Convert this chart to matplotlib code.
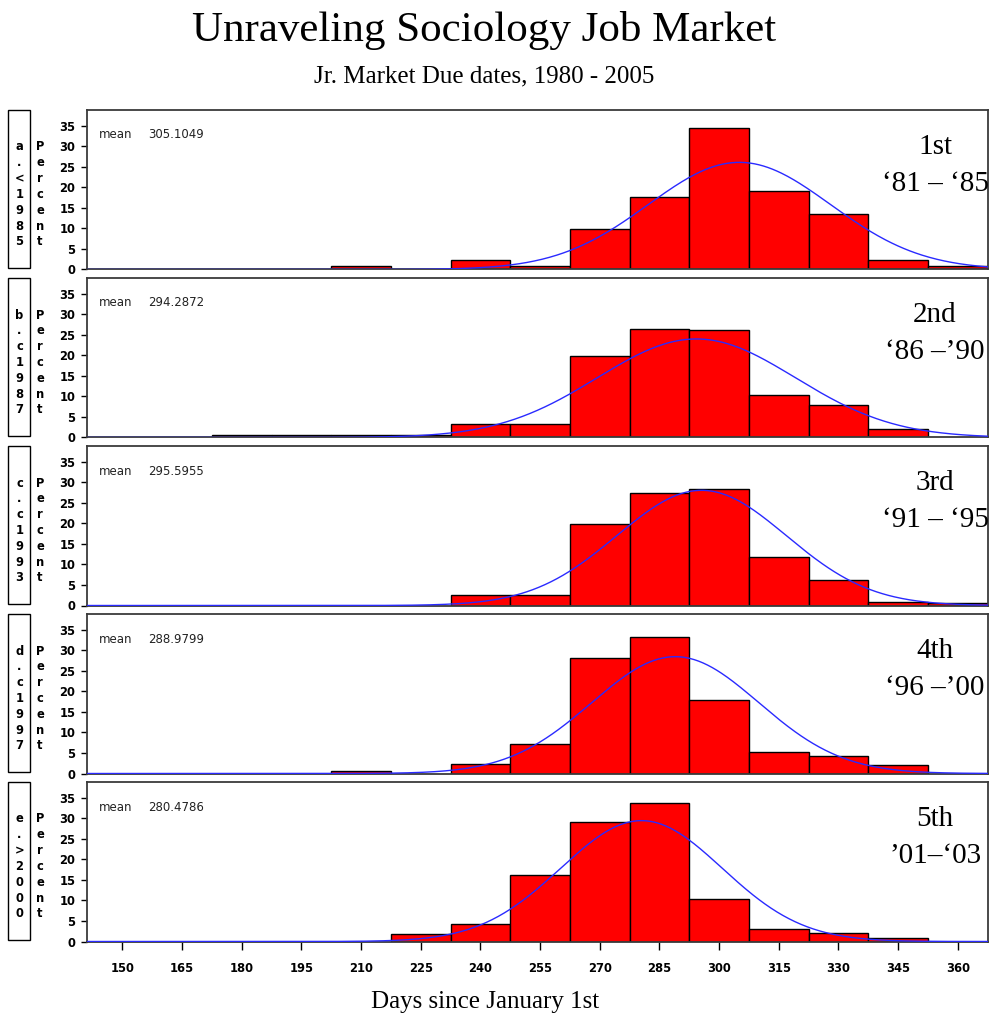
import numpy as np
import matplotlib
matplotlib.use("Agg")
import matplotlib.pyplot as plt
from matplotlib.patches import Rectangle

# ---- data -------------------------------------------------------------
bin_centers = [150, 165, 180, 195, 210, 225, 240, 255, 270, 285, 300, 315, 330, 345, 360]
bin_width = 15

period_codes = ["a.<1985", "b.c1987", "c.c1993", "d.c1997", "e.>2000"]
period_names = ["1st", "2nd", "3rd", "4th", "5th"]
period_years = ["\u201881 \u2013 \u201885", "\u201886 \u2013\u201990", "\u201891 \u2013 \u201895",
                "\u201896 \u2013\u201900", "\u201901\u2013\u201803"]

means = [305.1049, 294.2872, 295.5955, 288.9799, 280.4786]
std_devs = [22.9, 24.9, 21.3, 21.0, 20.3]

pct_1 = [0, 0, 0, 0, 0.8, 0, 2.3, 0.9, 9.9, 17.6, 34.4, 19.2, 13.5, 2.3, 0.8]
pct_2 = [0, 0, 0.5, 0.5, 0.7, 0.7, 3.3, 3.3, 19.8, 26.5, 26.2, 10.3, 8.0, 2.0, 0]
pct_3 = [0, 0, 0, 0, 0, 0, 2.6, 2.6, 19.9, 27.4, 28.3, 11.9, 6.2, 0.8, 0.5]
pct_4 = [0, 0, 0, 0, 0.6, 0, 2.2, 7.1, 28.2, 33.2, 17.9, 5.3, 4.3, 2.1, 0]
pct_5 = [0, 0, 0, 0, 0, 1.8, 4.2, 16.1, 29.1, 33.9, 10.3, 3.0, 2.1, 0.8, 0]
percents = [pct_1, pct_2, pct_3, pct_4, pct_5]

y_ticks = [0, 5, 10, 15, 20, 25, 30, 35]
x_ticks = bin_centers

# ---- layout -----------------------------------------------------------
W, H = 989, 1021
fig = plt.figure(figsize=(W / 100, H / 100), dpi=100)

def fx(px):
    return px / W

def fy(py):
    return 1 - py / H

panel_left, panel_right = 87, 988
panel_top0, panel_h, panel_step = 110, 159.5, 168
serif = "Liberation Serif"
tick_font = dict(fontsize=8.3, fontweight="bold", family="DejaVu Sans")

fig.text(fx(484), fy(30), "Unraveling Sociology Job Market", family=serif,
         fontsize=31, ha="center", va="center")
fig.text(fx(484.5), fy(76), "Jr. Market Due dates, 1980 - 2005", family=serif,
         fontsize=18, ha="center", va="center")
fig.text(fx(485), fy(1002), "Days since January 1st", family=serif,
         fontsize=18, ha="center", va="center")

xs = np.linspace(141.0, 368.0, 600)

for i in range(5):
    top = panel_top0 + panel_step * i
    ax = fig.add_axes([fx(panel_left), fy(top + panel_h),
                       fx(panel_right - panel_left), panel_h / H])
    vals = percents[i]
    cx = [c for c, v in zip(bin_centers, vals) if v > 0]
    cv = [v for v in vals if v > 0]
    ax.bar(cx, cv, width=bin_width, color="#ff0000", edgecolor="black",
           linewidth=1.0, zorder=2)

    # fitted normal curve, scaled to percent per bin
    mu, sd = means[i], std_devs[i]
    dens = 100 * bin_width * np.exp(-0.5 * ((xs - mu) / sd) ** 2) / (sd * np.sqrt(2 * np.pi))
    ax.plot(xs, dens, color="#2a2aff", linewidth=1.0, zorder=3)

    ax.set_xlim(141.1, 367.6)
    ax.set_ylim(0, 38.9)
    ax.set_yticks(y_ticks)
    ax.set_yticklabels([str(t) for t in y_ticks], **tick_font)
    ax.tick_params(axis="y", direction="out", length=4.3, width=1.0, pad=4.0)
    if i == 4:
        ax.set_xticks(x_ticks)
        ax.set_xticklabels([str(t) for t in x_ticks], **tick_font)
        ax.tick_params(axis="x", direction="out", length=5.8, width=1.0, pad=9.0)
    else:
        ax.set_xticks([])
    for s in ax.spines.values():
        s.set_color("#3a3a3a")
        s.set_linewidth(1.3)

    # mean annotation
    fig.text(fx(99), fy(top + 25), "mean", fontsize=8.5, family="DejaVu Sans",
             ha="left", va="center", color="#222222")
    fig.text(fx(148), fy(top + 25), f"{means[i]:.4f}", fontsize=8.5,
             family="DejaVu Sans", ha="left", va="center", color="#222222")

    # period labels on the right
    fig.text(fx(935), fy(top + 37), period_names[i], family=serif, fontsize=21,
             ha="center", va="center")
    fig.text(fx(935), fy(top + 74), period_years[i], family=serif, fontsize=21,
             ha="center", va="center")

    # boxed group label and stacked axis title on the left
    fig.patches.append(Rectangle((fx(8), fy(top + 158)), fx(22), 158 / H,
                                 transform=fig.transFigure, fill=False,
                                 edgecolor="black", linewidth=1.0))
    for k, ch in enumerate(period_codes[i]):
        fig.text(fx(19.5), fy(top + 37 + 15.8 * k), ch, ha="center", va="center",
                 **tick_font)
    for k, ch in enumerate("Percent"):
        fig.text(fx(40), fy(top + 37 + 15.8 * k), ch, ha="center", va="center",
                 **tick_font)

fig.savefig("out.png", dpi=100)
